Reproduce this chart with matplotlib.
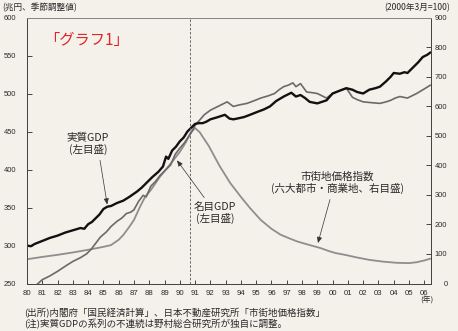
import matplotlib
matplotlib.use("Agg")
import matplotlib.pyplot as plt

# ---- data -------------------------------------------------------------
# Real GDP (trillion yen, seasonally adjusted, left scale)
real_t = [1980.0, 1980.25, 1980.5, 1981.0, 1981.5, 1982.0, 1982.5, 1983.0, 1983.5,
          1983.75, 1984.0, 1984.25, 1984.5, 1984.75, 1985.0, 1985.25, 1985.5, 1985.9,
          1986.3, 1986.7, 1987.2, 1987.5, 1987.9, 1988.2, 1988.6, 1988.9, 1989.1,
          1989.25, 1989.5, 1989.75, 1990.0, 1990.25, 1990.5, 1990.75, 1991.0, 1991.25,
          1991.5, 1991.75, 1992.0, 1992.5, 1992.95, 1993.25, 1993.5, 1993.75, 1994.2,
          1994.6, 1995.1, 1995.5, 1995.9, 1996.3, 1996.8, 1997.3, 1997.6, 1997.9,
          1998.2, 1998.5, 1999.0, 1999.3, 1999.6, 2000.0, 2000.5, 2000.9, 2001.3,
          2001.6, 2002.0, 2002.4, 2002.8, 2003.1, 2003.5, 2003.8, 2004.0, 2004.4,
          2004.7, 2004.9, 2005.3, 2005.6, 2005.9, 2006.2, 2006.4]
real_v = [300, 299, 302, 306, 310, 313, 317, 320, 323,
          322, 328, 331, 336, 341, 348, 351, 352, 356,
          359, 364, 371, 376, 384, 390, 397, 404, 417,
          414, 425, 430, 437, 442, 450, 455, 460, 461,
          461, 463, 466, 469, 472, 467, 466, 467, 469,
          472, 476, 479, 483, 490, 496, 501, 496, 498,
          494, 489, 487, 489, 491, 500, 504, 507, 505,
          502, 500, 505, 507, 509, 516, 522, 527, 526,
          528, 527, 535, 541, 548, 551, 554]

# Nominal GDP (trillion yen, seasonally adjusted, left scale)
nom_t = [1980.5, 1981.0, 1981.5, 1982.0, 1982.6, 1983.0, 1983.5, 1983.9, 1984.2,
         1984.5, 1984.8, 1985.2, 1985.5, 1985.9, 1986.2, 1986.5, 1986.8, 1987.0,
         1987.3, 1987.6, 1987.8, 1988.1, 1988.4, 1988.7, 1989.0, 1989.4, 1989.7,
         1990.0, 1990.3, 1990.7, 1991.0, 1991.3, 1991.6, 1992.0, 1992.5, 1992.8,
         1993.1, 1993.5, 1993.9, 1994.4, 1994.8, 1995.3, 1995.8, 1996.2, 1996.5,
         1996.8, 1997.1, 1997.4, 1997.6, 1997.9, 1998.3, 1998.7, 1999.0, 1999.3,
         1999.6, 2000.0, 2000.5, 2000.9, 2001.3, 2001.6, 2002.0, 2002.5, 2003.1,
         2003.5, 2003.8, 2004.1, 2004.4, 2004.9, 2005.2, 2005.5, 2006.0, 2006.4]
nom_v = [246, 255, 260, 266, 274, 279, 284, 289, 295,
         303, 311, 318, 325, 332, 336, 342, 344, 347,
         358, 366, 364, 378, 384, 392, 398, 406, 420,
         428, 435, 447, 458, 465, 472, 478, 483, 486,
         489, 483, 485, 487, 490, 494, 497, 500, 505,
         509, 511, 514, 509, 513, 502, 501, 500, 497,
         494, 500, 504, 507, 495, 492, 489, 488, 487,
         489, 491, 494, 496, 494, 497, 500, 506, 511]

# Urban land price index, six major cities, commercial (Mar 2000 = 100, right scale)
land_t = [1980.0, 1981.0, 1982.0, 1983.0, 1984.0, 1985.0, 1985.5, 1986.0, 1986.3,
          1986.7, 1987.0, 1987.4, 1987.7, 1988.1, 1988.7, 1989.0, 1989.5, 1990.0,
          1990.4, 1990.7, 1991.0, 1991.3, 1991.9, 1992.6, 1993.3, 1994.0, 1994.6,
          1995.3, 1996.0, 1996.6, 1997.2, 1997.7, 1998.5, 1999.2, 1999.8, 2000.2,
          2000.9, 2001.5, 2002.4, 2003.3, 2004.2, 2005.0, 2005.5, 2006.0, 2006.4]
land_v = [82, 90, 97, 105, 114, 124, 130, 148, 164,
          192, 215, 260, 290, 316, 361, 380, 412, 445,
          478, 509, 526, 512, 465, 398, 340, 293, 255,
          215, 185, 165, 152, 142, 130, 120, 109, 103,
          96, 89, 80, 74, 70, 69, 72, 78, 84]

years = list(range(1980, 2007))
year_labels = [f"{y % 100:02d}" for y in years]
left_ticks = [250, 300, 350, 400, 450, 500, 550, 600]
right_ticks = [0, 100, 200, 300, 400, 500, 600, 700, 800, 900]
peak_year = 1990.7

# ---- style ------------------------------------------------------------
jp = ["Noto Sans CJK JP", "DejaVu Sans"]
num = ["Liberation Sans", "DejaVu Sans"]
bg = "#f4f0ea"
ink = "#2a2a2a"

W, H = 458, 331
fig = plt.figure(figsize=(W / 100, H / 100), dpi=100)
fig.patch.set_facecolor(bg)

L, R, T, B = 27, 431, 17.5, 283.5
ax = fig.add_axes([L / W, 1 - B / H, (R - L) / W, (B - T) / H])
ax2 = ax.twinx()
ax.set_zorder(ax2.get_zorder() + 1)
ax.patch.set_visible(False)
ax2.patch.set_facecolor(bg)

# series
ax2.plot(land_t, land_v, color="#8e8e8e", lw=1.3, solid_capstyle="round")
ax.plot(nom_t, nom_v, color="#6a6a6a", lw=1.2, solid_capstyle="round")
ax.plot(real_t, real_v, color="#111111", lw=1.7, solid_capstyle="round")
ax.axvline(peak_year, color="#555555", lw=0.6, ls=(0, (3, 2)))

ax.set_xlim(1980, 2006.44)
ax.set_ylim(250, 600)
ax2.set_ylim(0, 900)

for a in (ax, ax2):
    for s in a.spines.values():
        s.set_color("#444444")
        s.set_linewidth(0.7)
ax.spines["top"].set_color("#888888")

ax.set_xticks(years)
ax.set_xticklabels(year_labels, fontfamily=num, fontsize=5.6, color=ink)
ax.tick_params(axis="x", direction="in", length=3, width=0.6, pad=4.5, colors=ink)

ax.set_yticks(left_ticks)
ax.set_yticklabels([str(v) for v in left_ticks], fontfamily=num, fontsize=5.4, color=ink)
ax.tick_params(axis="y", direction="in", length=3.5, width=0.6, pad=7.6, colors=ink)

ax2.set_yticks(right_ticks)
ax2.set_yticklabels([str(v) for v in right_ticks], fontfamily=num, fontsize=5.4, color=ink)
ax2.tick_params(axis="y", direction="in", length=3.5, width=0.6, pad=11.8, colors=ink)
for lab in ax2.get_yticklabels():
    lab.set_horizontalalignment("right")


def fx(px):
    return px / W


def fy(py):
    return 1 - py / H


# unit captions
fig.text(fx(2), fy(8), "(兆円、季節調整値)", fontfamily=jp, fontsize=6.2,
         color=ink, ha="left", va="center")
fig.text(fx(450), fy(8), "(2000年3月=100)", fontfamily=jp, fontsize=6.2,
         color=ink, ha="right", va="center")
fig.text(fx(427), fy(301), "(年)", fontfamily=jp, fontsize=5.6,
         color=ink, ha="center", va="center")

# red chart tag
fig.text(fx(44), fy(41), "「グラフ1」", fontfamily=jp, fontsize=11,
         color="#e0262b", ha="left", va="center")

# series labels with leader arrows
arrow = dict(arrowstyle="-|>,head_length=0.35,head_width=0.15", color="#333333",
             lw=0.5, shrinkA=0, shrinkB=0)
lab_kw = dict(fontfamily=jp, fontsize=7.6, color=ink, ha="center", va="center",
              linespacing=1.1)

ax.text(1984.0, 433.5, "実質GDP\n(左目盛)", **lab_kw)
ax.annotate("", xy=(1985.25, 354), xytext=(1984.78, 412), arrowprops=arrow)

ax.text(1992.3, 343, "名目GDP\n(左目盛)", **lab_kw)
ax.annotate("", xy=(1989.82, 412), xytext=(1991.6, 363), arrowprops=arrow)

ax2.text(2000.3, 342, "市街地価格指数\n(六大都市・商業地、右目盛)", **lab_kw)
ax2.annotate("", xy=(1999.04, 137), xytext=(1999.83, 284), arrowprops=arrow)

# source notes
fig.text(fx(24), fy(313), "(出所)内閣府「国民経済計算」、日本不動産研究所「市街地価格指数」",
         fontfamily=jp, fontsize=6.8, color=ink, ha="left", va="center")
fig.text(fx(24), fy(324), "(注)実質GDPの系列の不連続は野村総合研究所が独自に調整。",
         fontfamily=jp, fontsize=6.8, color=ink, ha="left", va="center")

fig.savefig("out.png", dpi=100, facecolor=bg)
